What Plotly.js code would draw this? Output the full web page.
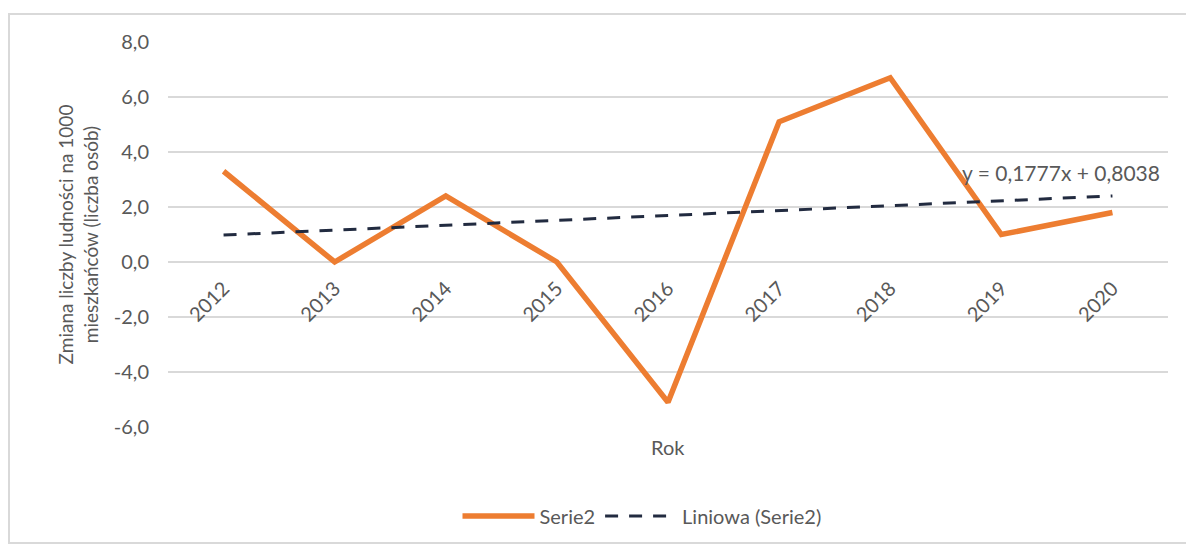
<!DOCTYPE html>
<html>
<head>
<meta charset="utf-8">
<script src="https://cdn.plot.ly/plotly-3.0.1.min.js"></script>
<style>
  html, body { margin: 0; padding: 0; background: #fff; }
  #chart { position: absolute; left: 0; top: 0; width: 1186px; height: 548px; }
  #frame { position: absolute; left: 8px; top: 13px; width: 1190px; height: 531px;
           border: 2px solid #d9d9d9; pointer-events: none; box-sizing: border-box; }
</style>
</head>
<body>
<div id="chart"></div>
<div id="frame"></div>
<script>
const years = ['2012','2013','2014','2015','2016','2017','2018','2019','2020'];
const serie2 = [3.3, 0.0, 2.4, 0.0, -5.1, 5.1, 6.7, 1.0, 1.8];
const trendSlope = 0.1777;
const trendIntercept = 0.8038;
const trendLabel = 'y = 0,1777x + 0,8038';
const yTickVals = [-6, -4, -2, 0, 2, 4, 6, 8];
const yTickText = ['-6,0', '-4,0', '-2,0', '0,0', '2,0', '4,0', '6,0', '8,0'];
const yTitle = 'Zmiana liczby ludności na 1000<br>mieszkańców (liczba osób)';
const xTitle = 'Rok';

const trend = years.map((_, i) => trendSlope * (i + 1) + trendIntercept);

const FONT = 'Lato, "Open Sans", sans-serif';
const TXT = '#595959';

const data = [
  { x: years, y: serie2, type: 'scatter', mode: 'lines', name: 'Serie2',
    line: { color: '#ED7D31', width: 5.5, shape: 'linear' }, hoverinfo: 'x+y' },
  { x: years, y: trend, type: 'scatter', mode: 'lines', name: 'Liniowa (Serie2)',
    line: { color: '#222B40', width: 3, dash: '13px,11px' } }
];

const layout = {
  width: 1186, height: 548,
  margin: { l: 168, r: 18, t: 42, b: 121 },
  paper_bgcolor: 'rgba(0,0,0,0)', plot_bgcolor: 'rgba(0,0,0,0)',
  font: { family: FONT, size: 19, color: TXT },
  showlegend: true,
  legend: { orientation: 'h', x: 0.474, xanchor: 'center', y: -0.231, yanchor: 'middle',
            font: { family: FONT, size: 20, color: TXT }, itemwidth: 72, traceorder: 'normal' },
  xaxis: {
    type: 'category', range: [-0.5, 8.5], anchor: 'free', position: 6 / 14,
    tickangle: -45, showgrid: false, showline: false, zeroline: false, ticks: '',
    ticklabelstandoff: 10,
    tickfont: { family: FONT, size: 20, color: TXT }, fixedrange: true
  },
  yaxis: {
    range: [-6, 8], tickvals: yTickVals, ticktext: yTickText,
    showgrid: true, gridcolor: '#D9D9D9', gridwidth: 1.5, zeroline: false, showline: false,
    ticks: '', ticklabelstandoff: 18,
    tickfont: { family: FONT, size: 20, color: TXT },
    title: { text: yTitle, font: { family: FONT, size: 19, color: TXT }, standoff: 10 },
    fixedrange: true
  },
  annotations: [
    { text: xTitle, xref: 'paper', yref: 'paper', x: 0.5, y: -0.052, xanchor: 'center', yanchor: 'middle',
      showarrow: false, font: { family: FONT, size: 20, color: TXT } },
    { text: trendLabel, xref: 'paper', yref: 'y', x: 0.994, y: 3.27, xanchor: 'right', yanchor: 'middle',
      showarrow: false, font: { family: FONT, size: 21, color: TXT } }
  ]
};

Plotly.newPlot('chart', data, layout, { displayModeBar: false });
</script>
</body>
</html>
